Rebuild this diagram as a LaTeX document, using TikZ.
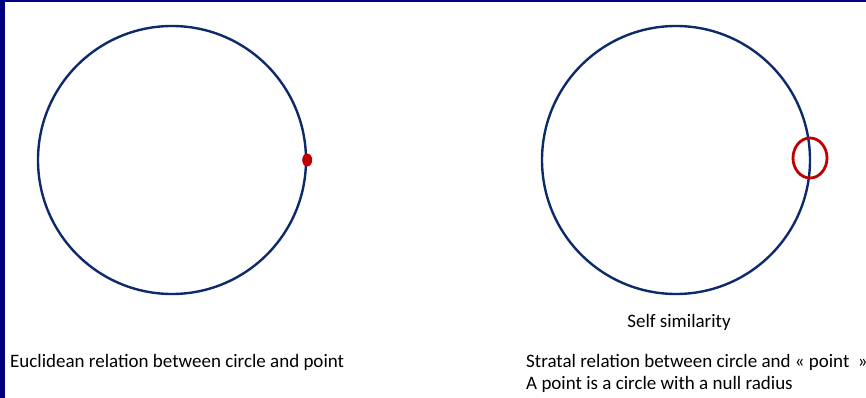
\documentclass[tikz,border=0pt]{standalone}
\usepackage{fontspec}
\setmainfont{Carlito}
\usetikzlibrary{shapes.geometric}
\definecolor{navy}{HTML}{000080}
\definecolor{cblue}{HTML}{0D2A6B}
\definecolor{cred}{HTML}{C00000}
\begin{document}
\begin{tikzpicture}[x=1pt,y=-1pt,
  bigcircle/.style={draw=cblue,line width=2.4pt},
  lbl/.style={font=\fontsize{19}{22}\selectfont,inner sep=0pt,anchor=base west}]
\useasboundingbox (0,0) rectangle (866,398);
\fill[white] (0,0) rectangle (866,398);
\fill[navy] (0,0) rectangle (866,2.5);
\fill[navy] (0,0) rectangle (5,398);
\node[bigcircle,circle,minimum size=268pt,inner sep=0pt] (c1) at (172,160) {};
\node[bigcircle,circle,minimum size=268pt,inner sep=0pt] (c2) at (676,160) {};
\node[fill=cred,ellipse,minimum width=10pt,minimum height=13pt,inner sep=0pt] (p1) at (c1.east) {};
\node[draw=cred,line width=2.8pt,ellipse,minimum width=34pt,minimum height=40pt,inner sep=0pt] (p2) at (810,158) {};
\node[lbl] (t1) at (10,367) {Euclidean relation between circle and point};
\node[lbl,anchor=base] (t2) at (679,327) {Self similarity};
\node[lbl] (t3) at (526,367) {Stratal relation between circle and « point~ »};
\node[lbl] (t4) at (526,389) {A point is a circle with a null radius};
\end{tikzpicture}
\end{document}
